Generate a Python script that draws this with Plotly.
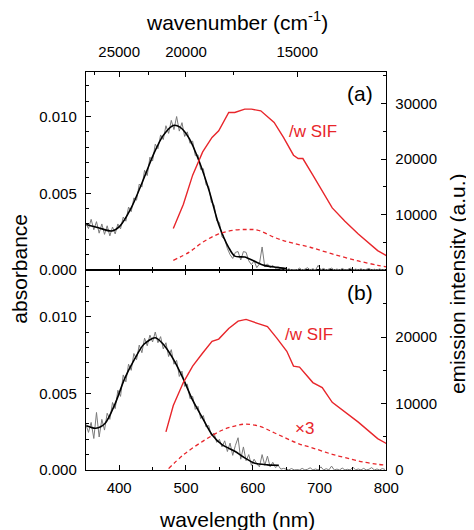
import plotly.graph_objects as go

# ---------------- data ----------------
# raw absorbance spectra (wavelength, nm)
raw_wl = [350, 354, 358, 362, 366, 370, 374, 378, 382, 386,
          390, 394, 398, 402, 406, 410, 414, 418, 422, 426,
          430, 434, 438, 442, 446, 450, 454, 458, 462, 466,
          470, 474, 478, 482, 486, 490, 494, 498, 502, 506,
          510, 514, 518, 522, 526, 530, 534, 538, 542, 546,
          550, 554, 558, 562, 566, 570, 574, 578, 582, 586,
          590, 594, 598, 602, 606, 610, 614, 618, 622, 626,
          630, 634, 638, 642, 646, 650, 654, 658, 662, 666,
          670, 674, 678, 682, 686, 690, 694, 698, 702, 706,
          710, 714, 718, 722, 726, 730, 734, 738, 742, 746,
          750, 754, 758, 762, 766, 770, 774, 778, 782, 786,
          790, 794, 798]
raw_abs_a = [0.00305, 0.00270, 0.00330, 0.00262, 0.00315, 0.00240, 0.00300, 0.00232, 0.00288, 0.00222,
             0.00280, 0.00235, 0.00300, 0.00268, 0.00345, 0.00318, 0.00410, 0.00380, 0.00470, 0.00455,
             0.00560, 0.00540, 0.00650, 0.00615, 0.00735, 0.00710, 0.00820, 0.00790, 0.00880, 0.00850,
             0.00940, 0.00890, 0.00975, 0.00915, 0.01000, 0.00905, 0.00960, 0.00870, 0.00900, 0.00825,
             0.00840, 0.00745, 0.00750, 0.00655, 0.00660, 0.00555, 0.00545, 0.00440, 0.00425, 0.00320,
             0.00310, 0.00215, 0.00200, 0.00140, 0.00100, 0.00075, 0.00115, 0.00120, 0.00065, 0.00120,
             0.00115, 0.00060, 0.00035, 0.00060, 0.00015, 0.00040, 0.00150, 0.00020, 0.00040, 0.00015,
             0.00030, 0.00010, 0.00020, 0.00005, 0.00010, 0.0, 0.00008, 0.0, 0.00003, 0.0,
             0.00012, 0.0, 0.00005, 0.00015, 0.0, 0.00008, 0.0, 0.00030, 0.00002, 0.00010,
             0.0, 0.00004, 0.00012, 0.0, 0.00006, 0.0, 0.00010, 0.0, 0.00003, 0.00012,
             0.0, 0.00006, 0.0, 0.00008, 0.0, 0.00004, 0.00010, 0.0, 0.00005, 0.0,
             0.00007, 0.0, 0.00004]
raw_abs_b = [0.00300, 0.00245, 0.00310, 0.00205, 0.00375, 0.00215, 0.00330, 0.00260, 0.00370, 0.00330,
             0.00440, 0.00400, 0.00520, 0.00480, 0.00620, 0.00575, 0.00690, 0.00650, 0.00760, 0.00720,
             0.00815, 0.00765, 0.00860, 0.00810, 0.00880, 0.00835, 0.00900, 0.00830, 0.00870, 0.00790,
             0.00830, 0.00740, 0.00785, 0.00690, 0.00715, 0.00610, 0.00645, 0.00545, 0.00560, 0.00465,
             0.00480, 0.00395, 0.00415, 0.00335, 0.00355, 0.00280, 0.00290, 0.00225, 0.00240, 0.00180,
             0.00200, 0.00150, 0.00190, 0.00120, 0.00175, 0.00095, 0.00160, 0.00210, 0.00070, 0.00150,
             0.00060, 0.00100, 0.00030, 0.00070, 0.00040, 0.00020, 0.00100, 0.00030, 0.00090, 0.00020,
             0.00050, 0.00015, 0.00030, 0.00005, 0.00010, 0.00004, 0.0, 0.00009, 0.0, 0.00002,
             0.0, 0.00010, 0.0, 0.00004, 0.00014, 0.0, 0.00006, 0.0, 0.00020, 0.0,
             0.00008, 0.0, 0.00025, 0.0, 0.00005, 0.0, 0.00012, 0.0, 0.00004, 0.0,
             0.00018, 0.0, 0.00006, 0.0, 0.00010, 0.0, 0.00004, 0.00015, 0.0, 0.00006,
             0.0, 0.00009, 0.00003]

# smoothed absorbance
fit_wl_a = [351, 369, 389, 401, 418, 437, 452, 466, 481, 491, 505, 520, 535, 549, 564, 573, 588, 602, 617, 636, 650]
fit_abs_a = [0.00297, 0.00275, 0.00254, 0.00286, 0.00404, 0.00598, 0.00760, 0.00877, 0.00942, 0.00931,
             0.00856, 0.00705, 0.00512, 0.00297, 0.00146, 0.00090, 0.00084, 0.00058, 0.00030, 0.00017, 0.00010]
fit_wl_b = [351, 365, 379, 394, 408, 423, 437, 454, 466, 481, 496, 510, 525, 539, 554, 573, 588, 602, 622, 639]
fit_abs_b = [0.00288, 0.00272, 0.00305, 0.00433, 0.00594, 0.00723, 0.00820, 0.00863, 0.00820, 0.00723,
             0.00594, 0.00455, 0.00337, 0.00230, 0.00165, 0.00122, 0.00079, 0.00045, 0.00033, 0.00030]

# emission with SIF (solid) and without (dashed)
em_wl_a = [481, 496, 510, 525, 539, 549, 564, 573, 588, 598, 612, 632, 646, 661, 668, 675, 690, 704, 719, 738, 758, 787, 800]
em_sif_a = [7500, 11800, 17100, 21300, 23900, 25100, 28400, 28400, 29000, 29000, 28700, 26600, 23900,
            20700, 20100, 20100, 17100, 14200, 11200, 8800, 6500, 3500, 2600]
em0_wl_a = [481, 505, 525, 549, 573, 593, 607, 632, 646, 661, 686, 719, 758, 787, 800]
em0_a = [1740, 3230, 5000, 6500, 7200, 7300, 7200, 5900, 5300, 4800, 4100, 2900, 1630, 850, 550]

em_wl_b = [470, 481, 496, 510, 525, 539, 549, 564, 578, 590, 607, 622, 636, 651, 661, 670, 690, 704, 719, 739, 758, 787, 800]
em_sif_b = [5720, 9690, 13150, 15630, 17600, 19350, 19700, 21300, 22400, 22660, 22070, 21570, 19840,
            17860, 15630, 15480, 13150, 12400, 10180, 8690, 7200, 4720, 3980]
em0_wl_b = [474, 496, 525, 554, 573, 590, 612, 632, 651, 670, 690, 719, 748, 767, 787, 800]
em0_b = [200, 2260, 4300, 5970, 6610, 6900, 6500, 5600, 4720, 3900, 3300, 2350, 1600, 1160, 850, 700]

# tick labels
wl_ticks = [400, 500, 600, 700, 800]
wl_minor = [350, 450, 550, 650, 750]
wn_ticks = [25000, 20000, 15000]
wn_minor = [27500, 22500, 17500, 12500]
abs_ticks = [0.0, 0.005, 0.010]
abs_minor = [0.001, 0.002, 0.003, 0.004, 0.006, 0.007, 0.008, 0.009, 0.011, 0.012, 0.013]
em_ticks_a = [0, 10000, 20000, 30000]
em_ticks_b = [0, 10000, 20000]
em_minor = [5000, 15000, 25000, 35000]

# ---------------- figure ----------------
W, H = 474, 530
L, R = 80, 389
TOP, MID, BOT = 65, 266, 469
RED = "#e8262b"
FONT = "Liberation Sans, Arial, sans-serif"

def px(x):
    return x / W

def py(y):
    return 1 - y / H

fig = go.Figure()

def add_panel(xa, ya, ya2, wl_raw, a_raw, wl_fit, a_fit, wl_s, s, wl_d, d):
    fig.add_trace(go.Scatter(x=wl_raw, y=a_raw, mode="lines", xaxis=xa, yaxis=ya,
                             line=dict(color="#7a7a7a", width=1), showlegend=False))
    fig.add_trace(go.Scatter(x=wl_fit, y=a_fit, mode="lines", xaxis=xa, yaxis=ya,
                             line=dict(color="black", width=1.6, shape="spline", smoothing=0.8),
                             showlegend=False))
    fig.add_trace(go.Scatter(x=wl_s, y=s, mode="lines", xaxis=xa, yaxis=ya2,
                             line=dict(color=RED, width=1.4), showlegend=False))
    fig.add_trace(go.Scatter(x=wl_d, y=d, mode="lines", xaxis=xa, yaxis=ya2,
                             line=dict(color=RED, width=1.3, dash="4px,3px", shape="spline"),
                             showlegend=False))

add_panel("x2", "y", "y2", raw_wl, raw_abs_a, fit_wl_a, fit_abs_a, em_wl_a, em_sif_a, em0_wl_a, em0_a)
add_panel("x", "y3", "y4", raw_wl, raw_abs_b, fit_wl_b, fit_abs_b, em_wl_b, em_sif_b, em0_wl_b, em0_b)
# invisible carrier so the top (wavenumber) axis is drawn
fig.add_trace(go.Scatter(x=[raw_wl[0]], y=[0], xaxis="x3", yaxis="y", mode="markers",
                         marker=dict(opacity=0), hoverinfo="skip", showlegend=False))

tickfont = dict(family=FONT, size=15, color="black")
common = dict(showline=True, linecolor="black", linewidth=1, ticks="inside", ticklen=5,
              tickwidth=1, tickcolor="black", showgrid=False, zeroline=False,
              tickfont=tickfont)

xr = [350, 800]
fig.update_layout(
    width=W, height=H, margin=dict(l=0, r=0, t=0, b=0),
    plot_bgcolor="white", paper_bgcolor="white", showlegend=False,
    xaxis=dict(domain=[px(L), px(R)], anchor="y3", range=xr, tickmode="array",
               tickvals=wl_ticks, ticktext=[str(v) for v in wl_ticks], mirror="ticks",
               minor=dict(tickmode="array", tickvals=wl_minor, ticks="inside", ticklen=3,
                          tickcolor="black"),
               ticklabelstandoff=4, **common),
    xaxis2=dict(domain=[px(L), px(R)], anchor="y", range=xr, matches="x", tickmode="array",
                tickvals=wl_ticks, showticklabels=False,
                minor=dict(tickmode="array", tickvals=wl_minor, ticks="inside", ticklen=3,
                           tickcolor="black"),
                **common),
    xaxis3=dict(domain=[px(L), px(R)], overlaying="x2", anchor="y", side="top", range=xr,
                tickmode="array",
                tickvals=[1e7 / w for w in wn_ticks], ticktext=[str(w) for w in wn_ticks],
                minor=dict(tickmode="array", tickvals=[1e7 / w for w in wn_minor], ticks="inside",
                           ticklen=3, tickcolor="black"),
                ticklabelstandoff=8, **common),
    yaxis=dict(domain=[py(MID), py(TOP)], anchor="x2", range=[0, 0.0129], tickmode="array",
               tickvals=abs_ticks, ticktext=["%.3f" % v for v in abs_ticks],
               minor=dict(tickmode="array", tickvals=abs_minor, ticks="inside", ticklen=3,
                          tickcolor="black"),
               ticklabelstandoff=5, **common),
    yaxis2=dict(overlaying="y", anchor="x2", side="right", range=[0, 35700], tickmode="array",
                tickvals=em_ticks_a, ticktext=[str(v) for v in em_ticks_a],
                minor=dict(tickmode="array", tickvals=em_minor, ticks="inside", ticklen=3,
                           tickcolor="black"),
                ticklabelstandoff=5, **common),
    yaxis3=dict(domain=[py(BOT), py(MID)], anchor="x", range=[0, 0.01305], tickmode="array",
                tickvals=abs_ticks, ticktext=["%.3f" % v for v in abs_ticks],
                minor=dict(tickmode="array", tickvals=abs_minor, ticks="inside", ticklen=3,
                           tickcolor="black"),
                ticklabelstandoff=5, **common),
    yaxis4=dict(overlaying="y3", anchor="x", side="right", range=[0, 30100], tickmode="array",
                tickvals=em_ticks_b, ticktext=[str(v) for v in em_ticks_b],
                minor=dict(tickmode="array", tickvals=em_minor[:3], ticks="inside", ticklen=3,
                           tickcolor="black"),
                ticklabelstandoff=5, **common),
)

def note(text, x, y, size, color="black", angle=0):
    fig.add_annotation(text=text, x=px(x), y=py(y), xref="paper", yref="paper",
                       showarrow=False, xanchor="center", yanchor="middle", textangle=angle,
                       font=dict(family=FONT, size=size, color=color))

note("(a)", 362, 87, 21)
note("(b)", 362, 289, 21)
note("/w SIF", 314, 125, 17, RED)
note("/w SIF", 310, 331, 17, RED)
note("×3", 305, 427, 17, RED)
note("absorbance", 11, 265, 21, angle=-90)
note("emission intensity (a.u.)", 462, 280, 21, angle=-90)
note("wavelength (nm)", 235, 519, 21)
note("wavenumber (cm<sup>-1</sup>)", 235, 13, 21)

fig.write_html("out.html")
